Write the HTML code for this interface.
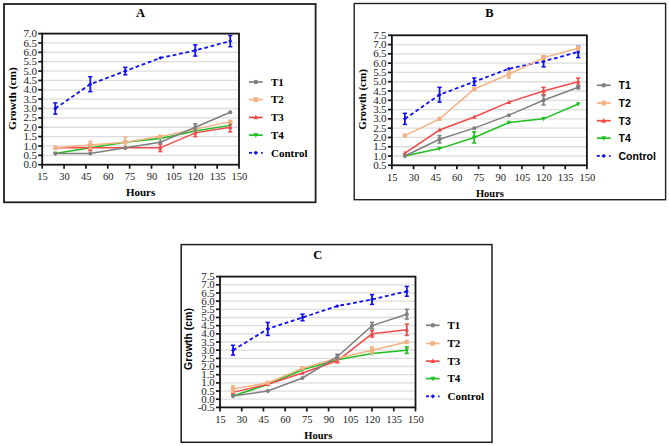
<!DOCTYPE html>
<html><head><meta charset="utf-8"><style>
html,body{margin:0;padding:0;background:#fff;width:669px;height:446px;overflow:hidden}
svg{display:block}
</style></head><body>
<svg width="669" height="446" viewBox="0 0 669 446">
<rect width="669" height="446" fill="#fff"/>
<rect x="4" y="4" width="311.6" height="198.3" fill="none" stroke="#1e1e1e" stroke-width="1.8"/>
<line x1="43.2" y1="155.34" x2="238.5" y2="155.34" stroke="#dcdcdc" stroke-width="1.3"/>
<line x1="43.2" y1="145.97" x2="238.5" y2="145.97" stroke="#dcdcdc" stroke-width="1.3"/>
<line x1="43.2" y1="136.61" x2="238.5" y2="136.61" stroke="#dcdcdc" stroke-width="1.3"/>
<line x1="43.2" y1="127.24" x2="238.5" y2="127.24" stroke="#dcdcdc" stroke-width="1.3"/>
<line x1="43.2" y1="117.88" x2="238.5" y2="117.88" stroke="#dcdcdc" stroke-width="1.3"/>
<line x1="43.2" y1="108.51" x2="238.5" y2="108.51" stroke="#dcdcdc" stroke-width="1.3"/>
<line x1="43.2" y1="99.15" x2="238.5" y2="99.15" stroke="#dcdcdc" stroke-width="1.3"/>
<line x1="43.2" y1="89.79" x2="238.5" y2="89.79" stroke="#dcdcdc" stroke-width="1.3"/>
<line x1="43.2" y1="80.42" x2="238.5" y2="80.42" stroke="#dcdcdc" stroke-width="1.3"/>
<line x1="43.2" y1="71.06" x2="238.5" y2="71.06" stroke="#dcdcdc" stroke-width="1.3"/>
<line x1="43.2" y1="61.69" x2="238.5" y2="61.69" stroke="#dcdcdc" stroke-width="1.3"/>
<line x1="43.2" y1="52.33" x2="238.5" y2="52.33" stroke="#dcdcdc" stroke-width="1.3"/>
<line x1="43.2" y1="42.96" x2="238.5" y2="42.96" stroke="#dcdcdc" stroke-width="1.3"/>
<rect x="42.2" y="33.6" width="196.8" height="131.1" fill="none" stroke="#151515" stroke-width="1.8"/>
<line x1="38.2" y1="164.7" x2="42.2" y2="164.7" stroke="#151515" stroke-width="1.7"/>
<text x="36.7" y="168.3" font-family='"Liberation Serif", serif' font-size="11" font-weight="normal" text-anchor="end" fill="#1a1a1a" letter-spacing="-0.2">0.0</text>
<line x1="38.2" y1="155.34" x2="42.2" y2="155.34" stroke="#151515" stroke-width="1.7"/>
<text x="36.7" y="158.94" font-family='"Liberation Serif", serif' font-size="11" font-weight="normal" text-anchor="end" fill="#1a1a1a" letter-spacing="-0.2">0.5</text>
<line x1="38.2" y1="145.97" x2="42.2" y2="145.97" stroke="#151515" stroke-width="1.7"/>
<text x="36.7" y="149.57" font-family='"Liberation Serif", serif' font-size="11" font-weight="normal" text-anchor="end" fill="#1a1a1a" letter-spacing="-0.2">1.0</text>
<line x1="38.2" y1="136.61" x2="42.2" y2="136.61" stroke="#151515" stroke-width="1.7"/>
<text x="36.7" y="140.21" font-family='"Liberation Serif", serif' font-size="11" font-weight="normal" text-anchor="end" fill="#1a1a1a" letter-spacing="-0.2">1.5</text>
<line x1="38.2" y1="127.24" x2="42.2" y2="127.24" stroke="#151515" stroke-width="1.7"/>
<text x="36.7" y="130.84" font-family='"Liberation Serif", serif' font-size="11" font-weight="normal" text-anchor="end" fill="#1a1a1a" letter-spacing="-0.2">2.0</text>
<line x1="38.2" y1="117.88" x2="42.2" y2="117.88" stroke="#151515" stroke-width="1.7"/>
<text x="36.7" y="121.48" font-family='"Liberation Serif", serif' font-size="11" font-weight="normal" text-anchor="end" fill="#1a1a1a" letter-spacing="-0.2">2.5</text>
<line x1="38.2" y1="108.51" x2="42.2" y2="108.51" stroke="#151515" stroke-width="1.7"/>
<text x="36.7" y="112.11" font-family='"Liberation Serif", serif' font-size="11" font-weight="normal" text-anchor="end" fill="#1a1a1a" letter-spacing="-0.2">3.0</text>
<line x1="38.2" y1="99.15" x2="42.2" y2="99.15" stroke="#151515" stroke-width="1.7"/>
<text x="36.7" y="102.75" font-family='"Liberation Serif", serif' font-size="11" font-weight="normal" text-anchor="end" fill="#1a1a1a" letter-spacing="-0.2">3.5</text>
<line x1="38.2" y1="89.79" x2="42.2" y2="89.79" stroke="#151515" stroke-width="1.7"/>
<text x="36.7" y="93.39" font-family='"Liberation Serif", serif' font-size="11" font-weight="normal" text-anchor="end" fill="#1a1a1a" letter-spacing="-0.2">4.0</text>
<line x1="38.2" y1="80.42" x2="42.2" y2="80.42" stroke="#151515" stroke-width="1.7"/>
<text x="36.7" y="84.02" font-family='"Liberation Serif", serif' font-size="11" font-weight="normal" text-anchor="end" fill="#1a1a1a" letter-spacing="-0.2">4.5</text>
<line x1="38.2" y1="71.06" x2="42.2" y2="71.06" stroke="#151515" stroke-width="1.7"/>
<text x="36.7" y="74.66" font-family='"Liberation Serif", serif' font-size="11" font-weight="normal" text-anchor="end" fill="#1a1a1a" letter-spacing="-0.2">5.0</text>
<line x1="38.2" y1="61.69" x2="42.2" y2="61.69" stroke="#151515" stroke-width="1.7"/>
<text x="36.7" y="65.29" font-family='"Liberation Serif", serif' font-size="11" font-weight="normal" text-anchor="end" fill="#1a1a1a" letter-spacing="-0.2">5.5</text>
<line x1="38.2" y1="52.33" x2="42.2" y2="52.33" stroke="#151515" stroke-width="1.7"/>
<text x="36.7" y="55.93" font-family='"Liberation Serif", serif' font-size="11" font-weight="normal" text-anchor="end" fill="#1a1a1a" letter-spacing="-0.2">6.0</text>
<line x1="38.2" y1="42.96" x2="42.2" y2="42.96" stroke="#151515" stroke-width="1.7"/>
<text x="36.7" y="46.56" font-family='"Liberation Serif", serif' font-size="11" font-weight="normal" text-anchor="end" fill="#1a1a1a" letter-spacing="-0.2">6.5</text>
<line x1="38.2" y1="33.6" x2="42.2" y2="33.6" stroke="#151515" stroke-width="1.7"/>
<text x="36.7" y="37.2" font-family='"Liberation Serif", serif' font-size="11" font-weight="normal" text-anchor="end" fill="#1a1a1a" letter-spacing="-0.2">7.0</text>
<line x1="42.2" y1="164.7" x2="42.2" y2="168.7" stroke="#151515" stroke-width="1.7"/>
<text x="42.6" y="180.2" font-family='"Liberation Serif", serif' font-size="10.5" font-weight="normal" text-anchor="middle" fill="#1a1a1a">15</text>
<line x1="64.07" y1="164.7" x2="64.07" y2="168.7" stroke="#151515" stroke-width="1.7"/>
<text x="64.47" y="180.2" font-family='"Liberation Serif", serif' font-size="10.5" font-weight="normal" text-anchor="middle" fill="#1a1a1a">30</text>
<line x1="85.93" y1="164.7" x2="85.93" y2="168.7" stroke="#151515" stroke-width="1.7"/>
<text x="86.33" y="180.2" font-family='"Liberation Serif", serif' font-size="10.5" font-weight="normal" text-anchor="middle" fill="#1a1a1a">45</text>
<line x1="107.8" y1="164.7" x2="107.8" y2="168.7" stroke="#151515" stroke-width="1.7"/>
<text x="108.2" y="180.2" font-family='"Liberation Serif", serif' font-size="10.5" font-weight="normal" text-anchor="middle" fill="#1a1a1a">60</text>
<line x1="129.67" y1="164.7" x2="129.67" y2="168.7" stroke="#151515" stroke-width="1.7"/>
<text x="130.07" y="180.2" font-family='"Liberation Serif", serif' font-size="10.5" font-weight="normal" text-anchor="middle" fill="#1a1a1a">75</text>
<line x1="151.53" y1="164.7" x2="151.53" y2="168.7" stroke="#151515" stroke-width="1.7"/>
<text x="151.93" y="180.2" font-family='"Liberation Serif", serif' font-size="10.5" font-weight="normal" text-anchor="middle" fill="#1a1a1a">90</text>
<line x1="173.4" y1="164.7" x2="173.4" y2="168.7" stroke="#151515" stroke-width="1.7"/>
<text x="173.8" y="180.2" font-family='"Liberation Serif", serif' font-size="10.5" font-weight="normal" text-anchor="middle" fill="#1a1a1a">105</text>
<line x1="195.27" y1="164.7" x2="195.27" y2="168.7" stroke="#151515" stroke-width="1.7"/>
<text x="195.67" y="180.2" font-family='"Liberation Serif", serif' font-size="10.5" font-weight="normal" text-anchor="middle" fill="#1a1a1a">120</text>
<line x1="217.13" y1="164.7" x2="217.13" y2="168.7" stroke="#151515" stroke-width="1.7"/>
<text x="217.53" y="180.2" font-family='"Liberation Serif", serif' font-size="10.5" font-weight="normal" text-anchor="middle" fill="#1a1a1a">135</text>
<line x1="239" y1="164.7" x2="239" y2="168.7" stroke="#151515" stroke-width="1.7"/>
<text x="239.4" y="180.2" font-family='"Liberation Serif", serif' font-size="10.5" font-weight="normal" text-anchor="middle" fill="#1a1a1a">150</text>
<text x="140.6" y="17.2" font-family='"Liberation Serif", serif' font-size="12.5" font-weight="bold" text-anchor="middle" fill="#000">A</text>
<text x="140.6" y="195.8" font-family='"Liberation Serif", serif' font-size="11" font-weight="bold" text-anchor="middle" fill="#000">Hours</text>
<text x="0" y="0" font-family='"Liberation Serif", serif' font-size="11.4" font-weight="bold" text-anchor="middle" fill="#000" transform="translate(16.3,98.5) rotate(-90)">Growth (cm)</text>
<polyline points="55.32,108.51 90.31,84.17 125.29,71.06 160.28,57.95 195.27,50.46 230.25,41.09" fill="none" stroke="#1010f5" stroke-width="1.8" stroke-dasharray="3.8,2.7"/>
<line x1="55.32" y1="102.9" x2="55.32" y2="114.13" stroke="#1010f5" stroke-width="1.8"/>
<line x1="53.22" y1="102.9" x2="57.42" y2="102.9" stroke="#1010f5" stroke-width="1.5"/>
<line x1="53.22" y1="114.13" x2="57.42" y2="114.13" stroke="#1010f5" stroke-width="1.5"/>
<polygon points="57.41,108.51 55.32,106.61 53.23,108.51 55.32,110.41" fill="#1010f5"/>
<line x1="90.31" y1="76.68" x2="90.31" y2="91.66" stroke="#1010f5" stroke-width="1.8"/>
<line x1="88.21" y1="76.68" x2="92.41" y2="76.68" stroke="#1010f5" stroke-width="1.5"/>
<line x1="88.21" y1="91.66" x2="92.41" y2="91.66" stroke="#1010f5" stroke-width="1.5"/>
<polygon points="92.4,84.17 90.31,82.27 88.22,84.17 90.31,86.07" fill="#1010f5"/>
<line x1="125.29" y1="67.31" x2="125.29" y2="74.8" stroke="#1010f5" stroke-width="1.8"/>
<line x1="123.19" y1="67.31" x2="127.39" y2="67.31" stroke="#1010f5" stroke-width="1.5"/>
<line x1="123.19" y1="74.8" x2="127.39" y2="74.8" stroke="#1010f5" stroke-width="1.5"/>
<polygon points="127.38,71.06 125.29,69.16 123.2,71.06 125.29,72.96" fill="#1010f5"/>
<polygon points="162.37,57.95 160.28,56.05 158.19,57.95 160.28,59.85" fill="#1010f5"/>
<line x1="195.27" y1="44.84" x2="195.27" y2="56.07" stroke="#1010f5" stroke-width="1.8"/>
<line x1="193.17" y1="44.84" x2="197.37" y2="44.84" stroke="#1010f5" stroke-width="1.5"/>
<line x1="193.17" y1="56.07" x2="197.37" y2="56.07" stroke="#1010f5" stroke-width="1.5"/>
<polygon points="197.36,50.46 195.27,48.56 193.18,50.46 195.27,52.36" fill="#1010f5"/>
<line x1="230.25" y1="35.47" x2="230.25" y2="46.71" stroke="#1010f5" stroke-width="1.8"/>
<line x1="228.15" y1="35.47" x2="232.35" y2="35.47" stroke="#1010f5" stroke-width="1.5"/>
<line x1="228.15" y1="46.71" x2="232.35" y2="46.71" stroke="#1010f5" stroke-width="1.5"/>
<polygon points="232.34,41.09 230.25,39.19 228.16,41.09 230.25,42.99" fill="#1010f5"/>
<polyline points="55.32,153.46 90.31,147.84 125.29,142.23 160.28,138.48 195.27,130.99 230.25,125.37" fill="none" stroke="#1fbf1f" stroke-width="1.5"/>
<polygon points="55.32,155.88 53.12,151.7 57.52,151.7" fill="#1fbf1f"/>
<polygon points="90.31,150.26 88.11,146.08 92.51,146.08" fill="#1fbf1f"/>
<polygon points="125.29,144.65 123.09,140.47 127.49,140.47" fill="#1fbf1f"/>
<polygon points="160.28,140.9 158.08,136.72 162.48,136.72" fill="#1fbf1f"/>
<polygon points="195.27,133.41 193.07,129.23 197.47,129.23" fill="#1fbf1f"/>
<polygon points="230.25,127.79 228.05,123.61 232.45,123.61" fill="#1fbf1f"/>
<polyline points="55.32,147.84 90.31,147.84 125.29,147.84 160.28,147.84 195.27,132.86 230.25,127.24" fill="none" stroke="#f24a4a" stroke-width="1.5"/>
<polygon points="55.32,145.42 53.12,149.6 57.52,149.6" fill="#f24a4a"/>
<line x1="90.31" y1="145.03" x2="90.31" y2="150.65" stroke="#f24a4a" stroke-width="1.8"/>
<line x1="88.21" y1="145.03" x2="92.41" y2="145.03" stroke="#f24a4a" stroke-width="1.5"/>
<line x1="88.21" y1="150.65" x2="92.41" y2="150.65" stroke="#f24a4a" stroke-width="1.5"/>
<polygon points="90.31,145.42 88.11,149.6 92.51,149.6" fill="#f24a4a"/>
<polygon points="125.29,145.42 123.09,149.6 127.49,149.6" fill="#f24a4a"/>
<line x1="160.28" y1="144.1" x2="160.28" y2="151.59" stroke="#f24a4a" stroke-width="1.8"/>
<line x1="158.18" y1="144.1" x2="162.38" y2="144.1" stroke="#f24a4a" stroke-width="1.5"/>
<line x1="158.18" y1="151.59" x2="162.38" y2="151.59" stroke="#f24a4a" stroke-width="1.5"/>
<polygon points="160.28,145.42 158.08,149.6 162.48,149.6" fill="#f24a4a"/>
<line x1="195.27" y1="129.12" x2="195.27" y2="136.61" stroke="#f24a4a" stroke-width="1.8"/>
<line x1="193.17" y1="129.12" x2="197.37" y2="129.12" stroke="#f24a4a" stroke-width="1.5"/>
<line x1="193.17" y1="136.61" x2="197.37" y2="136.61" stroke="#f24a4a" stroke-width="1.5"/>
<polygon points="195.27,130.44 193.07,134.62 197.47,134.62" fill="#f24a4a"/>
<line x1="230.25" y1="122.56" x2="230.25" y2="131.92" stroke="#f24a4a" stroke-width="1.8"/>
<line x1="228.15" y1="122.56" x2="232.35" y2="122.56" stroke="#f24a4a" stroke-width="1.5"/>
<line x1="228.15" y1="131.92" x2="232.35" y2="131.92" stroke="#f24a4a" stroke-width="1.5"/>
<polygon points="230.25,124.82 228.05,129 232.45,129" fill="#f24a4a"/>
<polyline points="55.32,147.84 90.31,145.03 125.29,142.23 160.28,136.61 195.27,129.12 230.25,121.62" fill="none" stroke="#f4b183" stroke-width="1.5"/>
<rect x="53.22" y="145.74" width="4.2" height="4.2" fill="#f4b183"/>
<line x1="90.31" y1="141.29" x2="90.31" y2="148.78" stroke="#f4b183" stroke-width="1.8"/>
<line x1="88.21" y1="141.29" x2="92.41" y2="141.29" stroke="#f4b183" stroke-width="1.5"/>
<line x1="88.21" y1="148.78" x2="92.41" y2="148.78" stroke="#f4b183" stroke-width="1.5"/>
<rect x="88.21" y="142.94" width="4.2" height="4.2" fill="#f4b183"/>
<line x1="125.29" y1="137.17" x2="125.29" y2="147.28" stroke="#f4b183" stroke-width="1.8"/>
<line x1="123.19" y1="137.17" x2="127.39" y2="137.17" stroke="#f4b183" stroke-width="1.5"/>
<line x1="123.19" y1="147.28" x2="127.39" y2="147.28" stroke="#f4b183" stroke-width="1.5"/>
<rect x="123.19" y="140.13" width="4.2" height="4.2" fill="#f4b183"/>
<rect x="158.18" y="134.51" width="4.2" height="4.2" fill="#f4b183"/>
<rect x="193.17" y="127.02" width="4.2" height="4.2" fill="#f4b183"/>
<rect x="228.15" y="119.52" width="4.2" height="4.2" fill="#f4b183"/>
<polyline points="55.32,153.46 90.31,153.46 125.29,147.84 160.28,142.23 195.27,127.24 230.25,112.26" fill="none" stroke="#7f7f7f" stroke-width="1.5"/>
<circle cx="55.32" cy="153.46" r="2" fill="#7f7f7f"/>
<circle cx="90.31" cy="153.46" r="2" fill="#7f7f7f"/>
<circle cx="125.29" cy="147.84" r="2" fill="#7f7f7f"/>
<circle cx="160.28" cy="142.23" r="2" fill="#7f7f7f"/>
<line x1="195.27" y1="123.87" x2="195.27" y2="130.61" stroke="#7f7f7f" stroke-width="1.8"/>
<line x1="193.17" y1="123.87" x2="197.37" y2="123.87" stroke="#7f7f7f" stroke-width="1.5"/>
<line x1="193.17" y1="130.61" x2="197.37" y2="130.61" stroke="#7f7f7f" stroke-width="1.5"/>
<circle cx="195.27" cy="127.24" r="2" fill="#7f7f7f"/>
<circle cx="230.25" cy="112.26" r="2" fill="#7f7f7f"/>
<line x1="249" y1="82" x2="262.7" y2="82" stroke="#7f7f7f" stroke-width="1.7"/>
<circle cx="255.85" cy="82" r="2.2" fill="#7f7f7f"/>
<text x="271" y="85.8" font-family='"Liberation Serif", serif' font-size="11" font-weight="bold" text-anchor="start" fill="#000">T1</text>
<line x1="249" y1="99.6" x2="262.7" y2="99.6" stroke="#f4b183" stroke-width="1.7"/>
<rect x="253.54" y="97.29" width="4.62" height="4.62" fill="#f4b183"/>
<text x="271" y="103.4" font-family='"Liberation Serif", serif' font-size="11" font-weight="bold" text-anchor="start" fill="#000">T2</text>
<line x1="249" y1="117.4" x2="262.7" y2="117.4" stroke="#f24a4a" stroke-width="1.7"/>
<polygon points="255.85,114.74 253.43,119.34 258.27,119.34" fill="#f24a4a"/>
<text x="271" y="121.2" font-family='"Liberation Serif", serif' font-size="11" font-weight="bold" text-anchor="start" fill="#000">T3</text>
<line x1="249" y1="135.1" x2="262.7" y2="135.1" stroke="#1fbf1f" stroke-width="1.7"/>
<polygon points="255.85,137.76 253.43,133.16 258.27,133.16" fill="#1fbf1f"/>
<text x="271" y="138.9" font-family='"Liberation Serif", serif' font-size="11" font-weight="bold" text-anchor="start" fill="#000">T4</text>
<line x1="249" y1="152.8" x2="252" y2="152.8" stroke="#1010f5" stroke-width="1.8"/>
<line x1="261.1" y1="152.8" x2="262.7" y2="152.8" stroke="#1010f5" stroke-width="1.8"/>
<polygon points="258.15,152.8 255.85,150.71 253.55,152.8 255.85,154.89" fill="#1010f5"/>
<text x="271" y="156.6" font-family='"Liberation Serif", serif' font-size="11" font-weight="bold" text-anchor="start" fill="#000">Control</text>
<rect x="354.2" y="3.5" width="311.4" height="196.2" fill="none" stroke="#1e1e1e" stroke-width="1.4"/>
<line x1="392.9" y1="156.01" x2="586.4" y2="156.01" stroke="#dcdcdc" stroke-width="1.3"/>
<line x1="392.9" y1="146.73" x2="586.4" y2="146.73" stroke="#dcdcdc" stroke-width="1.3"/>
<line x1="392.9" y1="137.44" x2="586.4" y2="137.44" stroke="#dcdcdc" stroke-width="1.3"/>
<line x1="392.9" y1="128.16" x2="586.4" y2="128.16" stroke="#dcdcdc" stroke-width="1.3"/>
<line x1="392.9" y1="118.87" x2="586.4" y2="118.87" stroke="#dcdcdc" stroke-width="1.3"/>
<line x1="392.9" y1="109.59" x2="586.4" y2="109.59" stroke="#dcdcdc" stroke-width="1.3"/>
<line x1="392.9" y1="100.3" x2="586.4" y2="100.3" stroke="#dcdcdc" stroke-width="1.3"/>
<line x1="392.9" y1="91.01" x2="586.4" y2="91.01" stroke="#dcdcdc" stroke-width="1.3"/>
<line x1="392.9" y1="81.73" x2="586.4" y2="81.73" stroke="#dcdcdc" stroke-width="1.3"/>
<line x1="392.9" y1="72.44" x2="586.4" y2="72.44" stroke="#dcdcdc" stroke-width="1.3"/>
<line x1="392.9" y1="63.16" x2="586.4" y2="63.16" stroke="#dcdcdc" stroke-width="1.3"/>
<line x1="392.9" y1="53.87" x2="586.4" y2="53.87" stroke="#dcdcdc" stroke-width="1.3"/>
<line x1="392.9" y1="44.59" x2="586.4" y2="44.59" stroke="#dcdcdc" stroke-width="1.3"/>
<rect x="391.9" y="35.3" width="195" height="130" fill="none" stroke="#151515" stroke-width="1.8"/>
<line x1="387.9" y1="165.3" x2="391.9" y2="165.3" stroke="#151515" stroke-width="1.7"/>
<text x="386.4" y="168.9" font-family='"Liberation Serif", serif' font-size="11" font-weight="normal" text-anchor="end" fill="#1a1a1a" letter-spacing="-0.2">0.5</text>
<line x1="387.9" y1="156.01" x2="391.9" y2="156.01" stroke="#151515" stroke-width="1.7"/>
<text x="386.4" y="159.61" font-family='"Liberation Serif", serif' font-size="11" font-weight="normal" text-anchor="end" fill="#1a1a1a" letter-spacing="-0.2">1.0</text>
<line x1="387.9" y1="146.73" x2="391.9" y2="146.73" stroke="#151515" stroke-width="1.7"/>
<text x="386.4" y="150.33" font-family='"Liberation Serif", serif' font-size="11" font-weight="normal" text-anchor="end" fill="#1a1a1a" letter-spacing="-0.2">1.5</text>
<line x1="387.9" y1="137.44" x2="391.9" y2="137.44" stroke="#151515" stroke-width="1.7"/>
<text x="386.4" y="141.04" font-family='"Liberation Serif", serif' font-size="11" font-weight="normal" text-anchor="end" fill="#1a1a1a" letter-spacing="-0.2">2.0</text>
<line x1="387.9" y1="128.16" x2="391.9" y2="128.16" stroke="#151515" stroke-width="1.7"/>
<text x="386.4" y="131.76" font-family='"Liberation Serif", serif' font-size="11" font-weight="normal" text-anchor="end" fill="#1a1a1a" letter-spacing="-0.2">2.5</text>
<line x1="387.9" y1="118.87" x2="391.9" y2="118.87" stroke="#151515" stroke-width="1.7"/>
<text x="386.4" y="122.47" font-family='"Liberation Serif", serif' font-size="11" font-weight="normal" text-anchor="end" fill="#1a1a1a" letter-spacing="-0.2">3.0</text>
<line x1="387.9" y1="109.59" x2="391.9" y2="109.59" stroke="#151515" stroke-width="1.7"/>
<text x="386.4" y="113.19" font-family='"Liberation Serif", serif' font-size="11" font-weight="normal" text-anchor="end" fill="#1a1a1a" letter-spacing="-0.2">3.5</text>
<line x1="387.9" y1="100.3" x2="391.9" y2="100.3" stroke="#151515" stroke-width="1.7"/>
<text x="386.4" y="103.9" font-family='"Liberation Serif", serif' font-size="11" font-weight="normal" text-anchor="end" fill="#1a1a1a" letter-spacing="-0.2">4.0</text>
<line x1="387.9" y1="91.01" x2="391.9" y2="91.01" stroke="#151515" stroke-width="1.7"/>
<text x="386.4" y="94.61" font-family='"Liberation Serif", serif' font-size="11" font-weight="normal" text-anchor="end" fill="#1a1a1a" letter-spacing="-0.2">4.5</text>
<line x1="387.9" y1="81.73" x2="391.9" y2="81.73" stroke="#151515" stroke-width="1.7"/>
<text x="386.4" y="85.33" font-family='"Liberation Serif", serif' font-size="11" font-weight="normal" text-anchor="end" fill="#1a1a1a" letter-spacing="-0.2">5.0</text>
<line x1="387.9" y1="72.44" x2="391.9" y2="72.44" stroke="#151515" stroke-width="1.7"/>
<text x="386.4" y="76.04" font-family='"Liberation Serif", serif' font-size="11" font-weight="normal" text-anchor="end" fill="#1a1a1a" letter-spacing="-0.2">5.5</text>
<line x1="387.9" y1="63.16" x2="391.9" y2="63.16" stroke="#151515" stroke-width="1.7"/>
<text x="386.4" y="66.76" font-family='"Liberation Serif", serif' font-size="11" font-weight="normal" text-anchor="end" fill="#1a1a1a" letter-spacing="-0.2">6.0</text>
<line x1="387.9" y1="53.87" x2="391.9" y2="53.87" stroke="#151515" stroke-width="1.7"/>
<text x="386.4" y="57.47" font-family='"Liberation Serif", serif' font-size="11" font-weight="normal" text-anchor="end" fill="#1a1a1a" letter-spacing="-0.2">6.5</text>
<line x1="387.9" y1="44.59" x2="391.9" y2="44.59" stroke="#151515" stroke-width="1.7"/>
<text x="386.4" y="48.19" font-family='"Liberation Serif", serif' font-size="11" font-weight="normal" text-anchor="end" fill="#1a1a1a" letter-spacing="-0.2">7.0</text>
<line x1="387.9" y1="35.3" x2="391.9" y2="35.3" stroke="#151515" stroke-width="1.7"/>
<text x="386.4" y="38.9" font-family='"Liberation Serif", serif' font-size="11" font-weight="normal" text-anchor="end" fill="#1a1a1a" letter-spacing="-0.2">7.5</text>
<line x1="391.9" y1="165.3" x2="391.9" y2="169.3" stroke="#151515" stroke-width="1.7"/>
<text x="392.3" y="180.6" font-family='"Liberation Serif", serif' font-size="10.5" font-weight="normal" text-anchor="middle" fill="#1a1a1a">15</text>
<line x1="413.57" y1="165.3" x2="413.57" y2="169.3" stroke="#151515" stroke-width="1.7"/>
<text x="413.97" y="180.6" font-family='"Liberation Serif", serif' font-size="10.5" font-weight="normal" text-anchor="middle" fill="#1a1a1a">30</text>
<line x1="435.23" y1="165.3" x2="435.23" y2="169.3" stroke="#151515" stroke-width="1.7"/>
<text x="435.63" y="180.6" font-family='"Liberation Serif", serif' font-size="10.5" font-weight="normal" text-anchor="middle" fill="#1a1a1a">45</text>
<line x1="456.9" y1="165.3" x2="456.9" y2="169.3" stroke="#151515" stroke-width="1.7"/>
<text x="457.3" y="180.6" font-family='"Liberation Serif", serif' font-size="10.5" font-weight="normal" text-anchor="middle" fill="#1a1a1a">60</text>
<line x1="478.57" y1="165.3" x2="478.57" y2="169.3" stroke="#151515" stroke-width="1.7"/>
<text x="478.97" y="180.6" font-family='"Liberation Serif", serif' font-size="10.5" font-weight="normal" text-anchor="middle" fill="#1a1a1a">75</text>
<line x1="500.23" y1="165.3" x2="500.23" y2="169.3" stroke="#151515" stroke-width="1.7"/>
<text x="500.63" y="180.6" font-family='"Liberation Serif", serif' font-size="10.5" font-weight="normal" text-anchor="middle" fill="#1a1a1a">90</text>
<line x1="521.9" y1="165.3" x2="521.9" y2="169.3" stroke="#151515" stroke-width="1.7"/>
<text x="522.3" y="180.6" font-family='"Liberation Serif", serif' font-size="10.5" font-weight="normal" text-anchor="middle" fill="#1a1a1a">105</text>
<line x1="543.57" y1="165.3" x2="543.57" y2="169.3" stroke="#151515" stroke-width="1.7"/>
<text x="543.97" y="180.6" font-family='"Liberation Serif", serif' font-size="10.5" font-weight="normal" text-anchor="middle" fill="#1a1a1a">120</text>
<line x1="565.23" y1="165.3" x2="565.23" y2="169.3" stroke="#151515" stroke-width="1.7"/>
<text x="565.63" y="180.6" font-family='"Liberation Serif", serif' font-size="10.5" font-weight="normal" text-anchor="middle" fill="#1a1a1a">135</text>
<line x1="586.9" y1="165.3" x2="586.9" y2="169.3" stroke="#151515" stroke-width="1.7"/>
<text x="587.3" y="180.6" font-family='"Liberation Serif", serif' font-size="10.5" font-weight="normal" text-anchor="middle" fill="#1a1a1a">150</text>
<text x="489.4" y="17.4" font-family='"Liberation Serif", serif' font-size="12.5" font-weight="bold" text-anchor="middle" fill="#000">B</text>
<text x="489.9" y="196.6" font-family='"Liberation Serif", serif' font-size="10.5" font-weight="bold" text-anchor="middle" fill="#000">Hours</text>
<text x="0" y="0" font-family='"Liberation Serif", serif' font-size="11" font-weight="bold" text-anchor="middle" fill="#000" transform="translate(366,99.5) rotate(-90)">Growth (cm)</text>
<polyline points="404.9,118.87 439.57,94.73 474.23,81.73 508.9,68.73 543.57,61.3 578.23,52.01" fill="none" stroke="#1010f5" stroke-width="1.8" stroke-dasharray="3.8,2.7"/>
<line x1="404.9" y1="113.3" x2="404.9" y2="124.44" stroke="#1010f5" stroke-width="1.8"/>
<line x1="402.8" y1="113.3" x2="407" y2="113.3" stroke="#1010f5" stroke-width="1.5"/>
<line x1="402.8" y1="124.44" x2="407" y2="124.44" stroke="#1010f5" stroke-width="1.5"/>
<polygon points="406.99,118.87 404.9,116.97 402.81,118.87 404.9,120.77" fill="#1010f5"/>
<line x1="439.57" y1="87.3" x2="439.57" y2="102.16" stroke="#1010f5" stroke-width="1.8"/>
<line x1="437.47" y1="87.3" x2="441.67" y2="87.3" stroke="#1010f5" stroke-width="1.5"/>
<line x1="437.47" y1="102.16" x2="441.67" y2="102.16" stroke="#1010f5" stroke-width="1.5"/>
<polygon points="441.66,94.73 439.57,92.83 437.48,94.73 439.57,96.63" fill="#1010f5"/>
<line x1="474.23" y1="78.01" x2="474.23" y2="85.44" stroke="#1010f5" stroke-width="1.8"/>
<line x1="472.13" y1="78.01" x2="476.33" y2="78.01" stroke="#1010f5" stroke-width="1.5"/>
<line x1="472.13" y1="85.44" x2="476.33" y2="85.44" stroke="#1010f5" stroke-width="1.5"/>
<polygon points="476.32,81.73 474.23,79.83 472.14,81.73 474.23,83.63" fill="#1010f5"/>
<polygon points="510.99,68.73 508.9,66.83 506.81,68.73 508.9,70.63" fill="#1010f5"/>
<line x1="543.57" y1="55.73" x2="543.57" y2="66.87" stroke="#1010f5" stroke-width="1.8"/>
<line x1="541.47" y1="55.73" x2="545.67" y2="55.73" stroke="#1010f5" stroke-width="1.5"/>
<line x1="541.47" y1="66.87" x2="545.67" y2="66.87" stroke="#1010f5" stroke-width="1.5"/>
<polygon points="545.66,61.3 543.57,59.4 541.48,61.3 543.57,63.2" fill="#1010f5"/>
<line x1="578.23" y1="46.44" x2="578.23" y2="57.59" stroke="#1010f5" stroke-width="1.8"/>
<line x1="576.13" y1="46.44" x2="580.33" y2="46.44" stroke="#1010f5" stroke-width="1.5"/>
<line x1="576.13" y1="57.59" x2="580.33" y2="57.59" stroke="#1010f5" stroke-width="1.5"/>
<polygon points="580.32,52.01 578.23,50.11 576.14,52.01 578.23,53.91" fill="#1010f5"/>
<polyline points="404.9,156.01 439.57,148.59 474.23,137.44 508.9,122.59 543.57,118.87 578.23,104.01" fill="none" stroke="#1fbf1f" stroke-width="1.5"/>
<polygon points="404.9,158.43 402.7,154.25 407.1,154.25" fill="#1fbf1f"/>
<polygon points="439.57,151.01 437.37,146.83 441.77,146.83" fill="#1fbf1f"/>
<line x1="474.23" y1="131.87" x2="474.23" y2="143.01" stroke="#1fbf1f" stroke-width="1.8"/>
<line x1="472.13" y1="131.87" x2="476.33" y2="131.87" stroke="#1fbf1f" stroke-width="1.5"/>
<line x1="472.13" y1="143.01" x2="476.33" y2="143.01" stroke="#1fbf1f" stroke-width="1.5"/>
<polygon points="474.23,139.86 472.03,135.68 476.43,135.68" fill="#1fbf1f"/>
<polygon points="508.9,125.01 506.7,120.83 511.1,120.83" fill="#1fbf1f"/>
<polygon points="543.57,121.29 541.37,117.11 545.77,117.11" fill="#1fbf1f"/>
<polygon points="578.23,106.43 576.03,102.25 580.43,102.25" fill="#1fbf1f"/>
<polyline points="404.9,153.04 439.57,130.01 474.23,117.01 508.9,102.16 543.57,91.01 578.23,81.73" fill="none" stroke="#f24a4a" stroke-width="1.5"/>
<polygon points="404.9,150.62 402.7,154.8 407.1,154.8" fill="#f24a4a"/>
<polygon points="439.57,127.59 437.37,131.77 441.77,131.77" fill="#f24a4a"/>
<polygon points="474.23,114.59 472.03,118.77 476.43,118.77" fill="#f24a4a"/>
<polygon points="508.9,99.74 506.7,103.92 511.1,103.92" fill="#f24a4a"/>
<line x1="543.57" y1="87.3" x2="543.57" y2="94.73" stroke="#f24a4a" stroke-width="1.8"/>
<line x1="541.47" y1="87.3" x2="545.67" y2="87.3" stroke="#f24a4a" stroke-width="1.5"/>
<line x1="541.47" y1="94.73" x2="545.67" y2="94.73" stroke="#f24a4a" stroke-width="1.5"/>
<polygon points="543.57,88.59 541.37,92.77 545.77,92.77" fill="#f24a4a"/>
<line x1="578.23" y1="78.01" x2="578.23" y2="85.44" stroke="#f24a4a" stroke-width="1.8"/>
<line x1="576.13" y1="78.01" x2="580.33" y2="78.01" stroke="#f24a4a" stroke-width="1.5"/>
<line x1="576.13" y1="85.44" x2="580.33" y2="85.44" stroke="#f24a4a" stroke-width="1.5"/>
<polygon points="578.23,79.31 576.03,83.49 580.43,83.49" fill="#f24a4a"/>
<polyline points="404.9,135.59 439.57,118.87 474.23,89.16 508.9,74.3 543.57,57.59 578.23,48.3" fill="none" stroke="#f4b183" stroke-width="1.5"/>
<rect x="402.8" y="133.49" width="4.2" height="4.2" fill="#f4b183"/>
<rect x="437.47" y="116.77" width="4.2" height="4.2" fill="#f4b183"/>
<rect x="472.13" y="87.06" width="4.2" height="4.2" fill="#f4b183"/>
<line x1="508.9" y1="70.59" x2="508.9" y2="78.01" stroke="#f4b183" stroke-width="1.8"/>
<line x1="506.8" y1="70.59" x2="511" y2="70.59" stroke="#f4b183" stroke-width="1.5"/>
<line x1="506.8" y1="78.01" x2="511" y2="78.01" stroke="#f4b183" stroke-width="1.5"/>
<rect x="506.8" y="72.2" width="4.2" height="4.2" fill="#f4b183"/>
<line x1="543.57" y1="55.73" x2="543.57" y2="59.44" stroke="#f4b183" stroke-width="1.8"/>
<line x1="541.47" y1="55.73" x2="545.67" y2="55.73" stroke="#f4b183" stroke-width="1.5"/>
<line x1="541.47" y1="59.44" x2="545.67" y2="59.44" stroke="#f4b183" stroke-width="1.5"/>
<rect x="541.47" y="55.49" width="4.2" height="4.2" fill="#f4b183"/>
<line x1="578.23" y1="46.81" x2="578.23" y2="49.79" stroke="#f4b183" stroke-width="1.8"/>
<line x1="576.13" y1="46.81" x2="580.33" y2="46.81" stroke="#f4b183" stroke-width="1.5"/>
<line x1="576.13" y1="49.79" x2="580.33" y2="49.79" stroke="#f4b183" stroke-width="1.5"/>
<rect x="576.13" y="46.2" width="4.2" height="4.2" fill="#f4b183"/>
<polyline points="404.9,156.01 439.57,139.3 474.23,128.16 508.9,115.16 543.57,100.3 578.23,87.3" fill="none" stroke="#7f7f7f" stroke-width="1.5"/>
<circle cx="404.9" cy="156.01" r="2" fill="#7f7f7f"/>
<line x1="439.57" y1="135.59" x2="439.57" y2="143.01" stroke="#7f7f7f" stroke-width="1.8"/>
<line x1="437.47" y1="135.59" x2="441.67" y2="135.59" stroke="#7f7f7f" stroke-width="1.5"/>
<line x1="437.47" y1="143.01" x2="441.67" y2="143.01" stroke="#7f7f7f" stroke-width="1.5"/>
<circle cx="439.57" cy="139.3" r="2" fill="#7f7f7f"/>
<circle cx="474.23" cy="128.16" r="2" fill="#7f7f7f"/>
<circle cx="508.9" cy="115.16" r="2" fill="#7f7f7f"/>
<line x1="543.57" y1="95.66" x2="543.57" y2="104.94" stroke="#7f7f7f" stroke-width="1.8"/>
<line x1="541.47" y1="95.66" x2="545.67" y2="95.66" stroke="#7f7f7f" stroke-width="1.5"/>
<line x1="541.47" y1="104.94" x2="545.67" y2="104.94" stroke="#7f7f7f" stroke-width="1.5"/>
<circle cx="543.57" cy="100.3" r="2" fill="#7f7f7f"/>
<line x1="578.23" y1="85.81" x2="578.23" y2="88.79" stroke="#7f7f7f" stroke-width="1.8"/>
<line x1="576.13" y1="85.81" x2="580.33" y2="85.81" stroke="#7f7f7f" stroke-width="1.5"/>
<line x1="576.13" y1="88.79" x2="580.33" y2="88.79" stroke="#7f7f7f" stroke-width="1.5"/>
<circle cx="578.23" cy="87.3" r="2" fill="#7f7f7f"/>
<line x1="596.8" y1="85.3" x2="610.7" y2="85.3" stroke="#7f7f7f" stroke-width="1.7"/>
<circle cx="603.75" cy="85.3" r="2.2" fill="#7f7f7f"/>
<text x="618.5" y="89.1" font-family='"Liberation Sans", sans-serif' font-size="10.5" font-weight="bold" text-anchor="start" fill="#000">T1</text>
<line x1="596.8" y1="103" x2="610.7" y2="103" stroke="#f4b183" stroke-width="1.7"/>
<rect x="601.44" y="100.69" width="4.62" height="4.62" fill="#f4b183"/>
<text x="618.5" y="106.8" font-family='"Liberation Sans", sans-serif' font-size="10.5" font-weight="bold" text-anchor="start" fill="#000">T2</text>
<line x1="596.8" y1="120.7" x2="610.7" y2="120.7" stroke="#f24a4a" stroke-width="1.7"/>
<polygon points="603.75,118.04 601.33,122.64 606.17,122.64" fill="#f24a4a"/>
<text x="618.5" y="124.5" font-family='"Liberation Sans", sans-serif' font-size="10.5" font-weight="bold" text-anchor="start" fill="#000">T3</text>
<line x1="596.8" y1="138.2" x2="610.7" y2="138.2" stroke="#1fbf1f" stroke-width="1.7"/>
<polygon points="603.75,140.86 601.33,136.26 606.17,136.26" fill="#1fbf1f"/>
<text x="618.5" y="142" font-family='"Liberation Sans", sans-serif' font-size="10.5" font-weight="bold" text-anchor="start" fill="#000">T4</text>
<line x1="596.8" y1="155.9" x2="599.8" y2="155.9" stroke="#1010f5" stroke-width="1.8"/>
<line x1="609.1" y1="155.9" x2="610.7" y2="155.9" stroke="#1010f5" stroke-width="1.8"/>
<polygon points="606.05,155.9 603.75,153.81 601.45,155.9 603.75,157.99" fill="#1010f5"/>
<text x="618.5" y="159.7" font-family='"Liberation Sans", sans-serif' font-size="10.5" font-weight="bold" text-anchor="start" fill="#000">Control</text>
<rect x="181.2" y="244.6" width="310.8" height="197.7" fill="none" stroke="#1e1e1e" stroke-width="1.5"/>
<line x1="221" y1="399.22" x2="415" y2="399.22" stroke="#dcdcdc" stroke-width="1.3"/>
<line x1="221" y1="391.05" x2="415" y2="391.05" stroke="#dcdcdc" stroke-width="1.3"/>
<line x1="221" y1="382.88" x2="415" y2="382.88" stroke="#dcdcdc" stroke-width="1.3"/>
<line x1="221" y1="374.7" x2="415" y2="374.7" stroke="#dcdcdc" stroke-width="1.3"/>
<line x1="221" y1="366.52" x2="415" y2="366.52" stroke="#dcdcdc" stroke-width="1.3"/>
<line x1="221" y1="358.35" x2="415" y2="358.35" stroke="#dcdcdc" stroke-width="1.3"/>
<line x1="221" y1="350.18" x2="415" y2="350.18" stroke="#dcdcdc" stroke-width="1.3"/>
<line x1="221" y1="342" x2="415" y2="342" stroke="#dcdcdc" stroke-width="1.3"/>
<line x1="221" y1="333.82" x2="415" y2="333.82" stroke="#dcdcdc" stroke-width="1.3"/>
<line x1="221" y1="325.65" x2="415" y2="325.65" stroke="#dcdcdc" stroke-width="1.3"/>
<line x1="221" y1="317.48" x2="415" y2="317.48" stroke="#dcdcdc" stroke-width="1.3"/>
<line x1="221" y1="309.3" x2="415" y2="309.3" stroke="#dcdcdc" stroke-width="1.3"/>
<line x1="221" y1="301.12" x2="415" y2="301.12" stroke="#dcdcdc" stroke-width="1.3"/>
<line x1="221" y1="292.95" x2="415" y2="292.95" stroke="#dcdcdc" stroke-width="1.3"/>
<line x1="221" y1="284.78" x2="415" y2="284.78" stroke="#dcdcdc" stroke-width="1.3"/>
<rect x="220" y="276.6" width="195.5" height="130.8" fill="none" stroke="#151515" stroke-width="1.8"/>
<line x1="216" y1="407.4" x2="220" y2="407.4" stroke="#151515" stroke-width="1.7"/>
<text x="214.5" y="411" font-family='"Liberation Serif", serif' font-size="11" font-weight="normal" text-anchor="end" fill="#1a1a1a" letter-spacing="-0.2">-0.5</text>
<line x1="216" y1="399.22" x2="220" y2="399.22" stroke="#151515" stroke-width="1.7"/>
<text x="214.5" y="402.82" font-family='"Liberation Serif", serif' font-size="11" font-weight="normal" text-anchor="end" fill="#1a1a1a" letter-spacing="-0.2">0.0</text>
<line x1="216" y1="391.05" x2="220" y2="391.05" stroke="#151515" stroke-width="1.7"/>
<text x="214.5" y="394.65" font-family='"Liberation Serif", serif' font-size="11" font-weight="normal" text-anchor="end" fill="#1a1a1a" letter-spacing="-0.2">0.5</text>
<line x1="216" y1="382.88" x2="220" y2="382.88" stroke="#151515" stroke-width="1.7"/>
<text x="214.5" y="386.48" font-family='"Liberation Serif", serif' font-size="11" font-weight="normal" text-anchor="end" fill="#1a1a1a" letter-spacing="-0.2">1.0</text>
<line x1="216" y1="374.7" x2="220" y2="374.7" stroke="#151515" stroke-width="1.7"/>
<text x="214.5" y="378.3" font-family='"Liberation Serif", serif' font-size="11" font-weight="normal" text-anchor="end" fill="#1a1a1a" letter-spacing="-0.2">1.5</text>
<line x1="216" y1="366.52" x2="220" y2="366.52" stroke="#151515" stroke-width="1.7"/>
<text x="214.5" y="370.12" font-family='"Liberation Serif", serif' font-size="11" font-weight="normal" text-anchor="end" fill="#1a1a1a" letter-spacing="-0.2">2.0</text>
<line x1="216" y1="358.35" x2="220" y2="358.35" stroke="#151515" stroke-width="1.7"/>
<text x="214.5" y="361.95" font-family='"Liberation Serif", serif' font-size="11" font-weight="normal" text-anchor="end" fill="#1a1a1a" letter-spacing="-0.2">2.5</text>
<line x1="216" y1="350.18" x2="220" y2="350.18" stroke="#151515" stroke-width="1.7"/>
<text x="214.5" y="353.78" font-family='"Liberation Serif", serif' font-size="11" font-weight="normal" text-anchor="end" fill="#1a1a1a" letter-spacing="-0.2">3.0</text>
<line x1="216" y1="342" x2="220" y2="342" stroke="#151515" stroke-width="1.7"/>
<text x="214.5" y="345.6" font-family='"Liberation Serif", serif' font-size="11" font-weight="normal" text-anchor="end" fill="#1a1a1a" letter-spacing="-0.2">3.5</text>
<line x1="216" y1="333.82" x2="220" y2="333.82" stroke="#151515" stroke-width="1.7"/>
<text x="214.5" y="337.43" font-family='"Liberation Serif", serif' font-size="11" font-weight="normal" text-anchor="end" fill="#1a1a1a" letter-spacing="-0.2">4.0</text>
<line x1="216" y1="325.65" x2="220" y2="325.65" stroke="#151515" stroke-width="1.7"/>
<text x="214.5" y="329.25" font-family='"Liberation Serif", serif' font-size="11" font-weight="normal" text-anchor="end" fill="#1a1a1a" letter-spacing="-0.2">4.5</text>
<line x1="216" y1="317.48" x2="220" y2="317.48" stroke="#151515" stroke-width="1.7"/>
<text x="214.5" y="321.08" font-family='"Liberation Serif", serif' font-size="11" font-weight="normal" text-anchor="end" fill="#1a1a1a" letter-spacing="-0.2">5.0</text>
<line x1="216" y1="309.3" x2="220" y2="309.3" stroke="#151515" stroke-width="1.7"/>
<text x="214.5" y="312.9" font-family='"Liberation Serif", serif' font-size="11" font-weight="normal" text-anchor="end" fill="#1a1a1a" letter-spacing="-0.2">5.5</text>
<line x1="216" y1="301.12" x2="220" y2="301.12" stroke="#151515" stroke-width="1.7"/>
<text x="214.5" y="304.73" font-family='"Liberation Serif", serif' font-size="11" font-weight="normal" text-anchor="end" fill="#1a1a1a" letter-spacing="-0.2">6.0</text>
<line x1="216" y1="292.95" x2="220" y2="292.95" stroke="#151515" stroke-width="1.7"/>
<text x="214.5" y="296.55" font-family='"Liberation Serif", serif' font-size="11" font-weight="normal" text-anchor="end" fill="#1a1a1a" letter-spacing="-0.2">6.5</text>
<line x1="216" y1="284.78" x2="220" y2="284.78" stroke="#151515" stroke-width="1.7"/>
<text x="214.5" y="288.38" font-family='"Liberation Serif", serif' font-size="11" font-weight="normal" text-anchor="end" fill="#1a1a1a" letter-spacing="-0.2">7.0</text>
<line x1="216" y1="276.6" x2="220" y2="276.6" stroke="#151515" stroke-width="1.7"/>
<text x="214.5" y="280.2" font-family='"Liberation Serif", serif' font-size="11" font-weight="normal" text-anchor="end" fill="#1a1a1a" letter-spacing="-0.2">7.5</text>
<line x1="220" y1="407.4" x2="220" y2="411.4" stroke="#151515" stroke-width="1.7"/>
<text x="220.4" y="422.8" font-family='"Liberation Serif", serif' font-size="10.5" font-weight="normal" text-anchor="middle" fill="#1a1a1a">15</text>
<line x1="241.72" y1="407.4" x2="241.72" y2="411.4" stroke="#151515" stroke-width="1.7"/>
<text x="242.12" y="422.8" font-family='"Liberation Serif", serif' font-size="10.5" font-weight="normal" text-anchor="middle" fill="#1a1a1a">30</text>
<line x1="263.44" y1="407.4" x2="263.44" y2="411.4" stroke="#151515" stroke-width="1.7"/>
<text x="263.84" y="422.8" font-family='"Liberation Serif", serif' font-size="10.5" font-weight="normal" text-anchor="middle" fill="#1a1a1a">45</text>
<line x1="285.17" y1="407.4" x2="285.17" y2="411.4" stroke="#151515" stroke-width="1.7"/>
<text x="285.57" y="422.8" font-family='"Liberation Serif", serif' font-size="10.5" font-weight="normal" text-anchor="middle" fill="#1a1a1a">60</text>
<line x1="306.89" y1="407.4" x2="306.89" y2="411.4" stroke="#151515" stroke-width="1.7"/>
<text x="307.29" y="422.8" font-family='"Liberation Serif", serif' font-size="10.5" font-weight="normal" text-anchor="middle" fill="#1a1a1a">75</text>
<line x1="328.61" y1="407.4" x2="328.61" y2="411.4" stroke="#151515" stroke-width="1.7"/>
<text x="329.01" y="422.8" font-family='"Liberation Serif", serif' font-size="10.5" font-weight="normal" text-anchor="middle" fill="#1a1a1a">90</text>
<line x1="350.33" y1="407.4" x2="350.33" y2="411.4" stroke="#151515" stroke-width="1.7"/>
<text x="350.73" y="422.8" font-family='"Liberation Serif", serif' font-size="10.5" font-weight="normal" text-anchor="middle" fill="#1a1a1a">105</text>
<line x1="372.06" y1="407.4" x2="372.06" y2="411.4" stroke="#151515" stroke-width="1.7"/>
<text x="372.46" y="422.8" font-family='"Liberation Serif", serif' font-size="10.5" font-weight="normal" text-anchor="middle" fill="#1a1a1a">120</text>
<line x1="393.78" y1="407.4" x2="393.78" y2="411.4" stroke="#151515" stroke-width="1.7"/>
<text x="394.18" y="422.8" font-family='"Liberation Serif", serif' font-size="10.5" font-weight="normal" text-anchor="middle" fill="#1a1a1a">135</text>
<line x1="415.5" y1="407.4" x2="415.5" y2="411.4" stroke="#151515" stroke-width="1.7"/>
<text x="415.9" y="422.8" font-family='"Liberation Serif", serif' font-size="10.5" font-weight="normal" text-anchor="middle" fill="#1a1a1a">150</text>
<text x="317.75" y="259" font-family='"Liberation Serif", serif' font-size="12.5" font-weight="bold" text-anchor="middle" fill="#000">C</text>
<text x="318.25" y="439" font-family='"Liberation Serif", serif' font-size="10.5" font-weight="bold" text-anchor="middle" fill="#000">Hours</text>
<text x="0" y="0" font-family='"Liberation Sans", sans-serif' font-size="10.5" font-weight="bold" text-anchor="middle" fill="#000" transform="translate(192.3,339) rotate(-90)">Growth (cm)</text>
<polyline points="233.03,350.18 267.79,328.92 302.54,317.48 337.3,306.03 372.06,299.49 406.81,291.32" fill="none" stroke="#1010f5" stroke-width="1.8" stroke-dasharray="3.8,2.7"/>
<line x1="233.03" y1="345.27" x2="233.03" y2="355.08" stroke="#1010f5" stroke-width="1.8"/>
<line x1="230.93" y1="345.27" x2="235.13" y2="345.27" stroke="#1010f5" stroke-width="1.5"/>
<line x1="230.93" y1="355.08" x2="235.13" y2="355.08" stroke="#1010f5" stroke-width="1.5"/>
<polygon points="235.12,350.18 233.03,348.28 230.94,350.18 233.03,352.07" fill="#1010f5"/>
<line x1="267.79" y1="322.38" x2="267.79" y2="335.46" stroke="#1010f5" stroke-width="1.8"/>
<line x1="265.69" y1="322.38" x2="269.89" y2="322.38" stroke="#1010f5" stroke-width="1.5"/>
<line x1="265.69" y1="335.46" x2="269.89" y2="335.46" stroke="#1010f5" stroke-width="1.5"/>
<polygon points="269.88,328.92 267.79,327.02 265.7,328.92 267.79,330.82" fill="#1010f5"/>
<line x1="302.54" y1="314.21" x2="302.54" y2="320.75" stroke="#1010f5" stroke-width="1.8"/>
<line x1="300.44" y1="314.21" x2="304.64" y2="314.21" stroke="#1010f5" stroke-width="1.5"/>
<line x1="300.44" y1="320.75" x2="304.64" y2="320.75" stroke="#1010f5" stroke-width="1.5"/>
<polygon points="304.63,317.48 302.54,315.58 300.45,317.48 302.54,319.38" fill="#1010f5"/>
<polygon points="339.39,306.03 337.3,304.13 335.21,306.03 337.3,307.93" fill="#1010f5"/>
<line x1="372.06" y1="294.59" x2="372.06" y2="304.39" stroke="#1010f5" stroke-width="1.8"/>
<line x1="369.96" y1="294.59" x2="374.16" y2="294.59" stroke="#1010f5" stroke-width="1.5"/>
<line x1="369.96" y1="304.39" x2="374.16" y2="304.39" stroke="#1010f5" stroke-width="1.5"/>
<polygon points="374.15,299.49 372.06,297.59 369.97,299.49 372.06,301.39" fill="#1010f5"/>
<line x1="406.81" y1="286.41" x2="406.81" y2="296.22" stroke="#1010f5" stroke-width="1.8"/>
<line x1="404.71" y1="286.41" x2="408.91" y2="286.41" stroke="#1010f5" stroke-width="1.5"/>
<line x1="404.71" y1="296.22" x2="408.91" y2="296.22" stroke="#1010f5" stroke-width="1.5"/>
<polygon points="408.9,291.32 406.81,289.42 404.72,291.32 406.81,293.22" fill="#1010f5"/>
<polyline points="233.03,395.95 267.79,384.51 302.54,369.8 337.3,359.66 372.06,353.44 406.81,350.18" fill="none" stroke="#1fbf1f" stroke-width="1.5"/>
<polygon points="233.03,398.38 230.83,394.19 235.23,394.19" fill="#1fbf1f"/>
<polygon points="267.79,386.93 265.59,382.75 269.99,382.75" fill="#1fbf1f"/>
<polygon points="302.54,372.22 300.34,368.04 304.74,368.04" fill="#1fbf1f"/>
<polygon points="337.3,362.08 335.1,357.9 339.5,357.9" fill="#1fbf1f"/>
<polygon points="372.06,355.87 369.86,351.69 374.26,351.69" fill="#1fbf1f"/>
<line x1="406.81" y1="346.9" x2="406.81" y2="353.44" stroke="#1fbf1f" stroke-width="1.8"/>
<line x1="404.71" y1="346.9" x2="408.91" y2="346.9" stroke="#1fbf1f" stroke-width="1.5"/>
<line x1="404.71" y1="353.44" x2="408.91" y2="353.44" stroke="#1fbf1f" stroke-width="1.5"/>
<polygon points="406.81,352.6 404.61,348.42 409.01,348.42" fill="#1fbf1f"/>
<polyline points="233.03,392.36 267.79,384.18 302.54,373.06 337.3,360.8 372.06,333.82 406.81,329.74" fill="none" stroke="#f24a4a" stroke-width="1.5"/>
<line x1="233.03" y1="388.76" x2="233.03" y2="395.95" stroke="#f24a4a" stroke-width="1.8"/>
<line x1="230.93" y1="388.76" x2="235.13" y2="388.76" stroke="#f24a4a" stroke-width="1.5"/>
<line x1="230.93" y1="395.95" x2="235.13" y2="395.95" stroke="#f24a4a" stroke-width="1.5"/>
<polygon points="233.03,389.94 230.83,394.12 235.23,394.12" fill="#f24a4a"/>
<polygon points="267.79,381.76 265.59,385.94 269.99,385.94" fill="#f24a4a"/>
<polygon points="302.54,370.64 300.34,374.82 304.74,374.82" fill="#f24a4a"/>
<line x1="337.3" y1="358.84" x2="337.3" y2="362.76" stroke="#f24a4a" stroke-width="1.8"/>
<line x1="335.2" y1="358.84" x2="339.4" y2="358.84" stroke="#f24a4a" stroke-width="1.5"/>
<line x1="335.2" y1="362.76" x2="339.4" y2="362.76" stroke="#f24a4a" stroke-width="1.5"/>
<polygon points="337.3,358.38 335.1,362.56 339.5,362.56" fill="#f24a4a"/>
<line x1="372.06" y1="330.56" x2="372.06" y2="337.1" stroke="#f24a4a" stroke-width="1.8"/>
<line x1="369.96" y1="330.56" x2="374.16" y2="330.56" stroke="#f24a4a" stroke-width="1.5"/>
<line x1="369.96" y1="337.1" x2="374.16" y2="337.1" stroke="#f24a4a" stroke-width="1.5"/>
<polygon points="372.06,331.4 369.86,335.58 374.26,335.58" fill="#f24a4a"/>
<line x1="406.81" y1="324.01" x2="406.81" y2="335.46" stroke="#f24a4a" stroke-width="1.8"/>
<line x1="404.71" y1="324.01" x2="408.91" y2="324.01" stroke="#f24a4a" stroke-width="1.5"/>
<line x1="404.71" y1="335.46" x2="408.91" y2="335.46" stroke="#f24a4a" stroke-width="1.5"/>
<polygon points="406.81,327.32 404.61,331.5 409.01,331.5" fill="#f24a4a"/>
<polyline points="233.03,389.09 267.79,382.88 302.54,368.16 337.3,358.35 372.06,350.18 406.81,342" fill="none" stroke="#f4b183" stroke-width="1.5"/>
<line x1="233.03" y1="385.82" x2="233.03" y2="392.36" stroke="#f4b183" stroke-width="1.8"/>
<line x1="230.93" y1="385.82" x2="235.13" y2="385.82" stroke="#f4b183" stroke-width="1.5"/>
<line x1="230.93" y1="392.36" x2="235.13" y2="392.36" stroke="#f4b183" stroke-width="1.5"/>
<rect x="230.93" y="386.99" width="4.2" height="4.2" fill="#f4b183"/>
<rect x="265.69" y="380.77" width="4.2" height="4.2" fill="#f4b183"/>
<rect x="300.44" y="366.06" width="4.2" height="4.2" fill="#f4b183"/>
<rect x="335.2" y="356.25" width="4.2" height="4.2" fill="#f4b183"/>
<line x1="372.06" y1="346.9" x2="372.06" y2="353.44" stroke="#f4b183" stroke-width="1.8"/>
<line x1="369.96" y1="346.9" x2="374.16" y2="346.9" stroke="#f4b183" stroke-width="1.5"/>
<line x1="369.96" y1="353.44" x2="374.16" y2="353.44" stroke="#f4b183" stroke-width="1.5"/>
<rect x="369.96" y="348.07" width="4.2" height="4.2" fill="#f4b183"/>
<rect x="404.71" y="339.9" width="4.2" height="4.2" fill="#f4b183"/>
<polyline points="233.03,395.95 267.79,391.05 302.54,377.97 337.3,356.71 372.06,325.65 406.81,314.21" fill="none" stroke="#7f7f7f" stroke-width="1.5"/>
<circle cx="233.03" cy="395.95" r="2" fill="#7f7f7f"/>
<circle cx="267.79" cy="391.05" r="2" fill="#7f7f7f"/>
<circle cx="302.54" cy="377.97" r="2" fill="#7f7f7f"/>
<line x1="337.3" y1="354.26" x2="337.3" y2="359.17" stroke="#7f7f7f" stroke-width="1.8"/>
<line x1="335.2" y1="354.26" x2="339.4" y2="354.26" stroke="#7f7f7f" stroke-width="1.5"/>
<line x1="335.2" y1="359.17" x2="339.4" y2="359.17" stroke="#7f7f7f" stroke-width="1.5"/>
<circle cx="337.3" cy="356.71" r="2" fill="#7f7f7f"/>
<line x1="372.06" y1="322.38" x2="372.06" y2="328.92" stroke="#7f7f7f" stroke-width="1.8"/>
<line x1="369.96" y1="322.38" x2="374.16" y2="322.38" stroke="#7f7f7f" stroke-width="1.5"/>
<line x1="369.96" y1="328.92" x2="374.16" y2="328.92" stroke="#7f7f7f" stroke-width="1.5"/>
<circle cx="372.06" cy="325.65" r="2" fill="#7f7f7f"/>
<line x1="406.81" y1="309.3" x2="406.81" y2="319.11" stroke="#7f7f7f" stroke-width="1.8"/>
<line x1="404.71" y1="309.3" x2="408.91" y2="309.3" stroke="#7f7f7f" stroke-width="1.5"/>
<line x1="404.71" y1="319.11" x2="408.91" y2="319.11" stroke="#7f7f7f" stroke-width="1.5"/>
<circle cx="406.81" cy="314.21" r="2" fill="#7f7f7f"/>
<line x1="426" y1="325.3" x2="439.6" y2="325.3" stroke="#7f7f7f" stroke-width="1.7"/>
<circle cx="432.8" cy="325.3" r="2.2" fill="#7f7f7f"/>
<text x="447.5" y="329.1" font-family='"Liberation Serif", serif' font-size="11" font-weight="bold" text-anchor="start" fill="#000">T1</text>
<line x1="426" y1="343.5" x2="439.6" y2="343.5" stroke="#f4b183" stroke-width="1.7"/>
<rect x="430.49" y="341.19" width="4.62" height="4.62" fill="#f4b183"/>
<text x="447.5" y="347.3" font-family='"Liberation Serif", serif' font-size="11" font-weight="bold" text-anchor="start" fill="#000">T2</text>
<line x1="426" y1="361.1" x2="439.6" y2="361.1" stroke="#f24a4a" stroke-width="1.7"/>
<polygon points="432.8,358.44 430.38,363.04 435.22,363.04" fill="#f24a4a"/>
<text x="447.5" y="364.9" font-family='"Liberation Serif", serif' font-size="11" font-weight="bold" text-anchor="start" fill="#000">T3</text>
<line x1="426" y1="378.6" x2="439.6" y2="378.6" stroke="#1fbf1f" stroke-width="1.7"/>
<polygon points="432.8,381.26 430.38,376.66 435.22,376.66" fill="#1fbf1f"/>
<text x="447.5" y="382.4" font-family='"Liberation Serif", serif' font-size="11" font-weight="bold" text-anchor="start" fill="#000">T4</text>
<line x1="426" y1="396.3" x2="429" y2="396.3" stroke="#1010f5" stroke-width="1.8"/>
<line x1="438" y1="396.3" x2="439.6" y2="396.3" stroke="#1010f5" stroke-width="1.8"/>
<polygon points="435.1,396.3 432.8,394.21 430.5,396.3 432.8,398.39" fill="#1010f5"/>
<text x="447.5" y="400.1" font-family='"Liberation Serif", serif' font-size="11" font-weight="bold" text-anchor="start" fill="#000">Control</text>
</svg>
</body></html>
